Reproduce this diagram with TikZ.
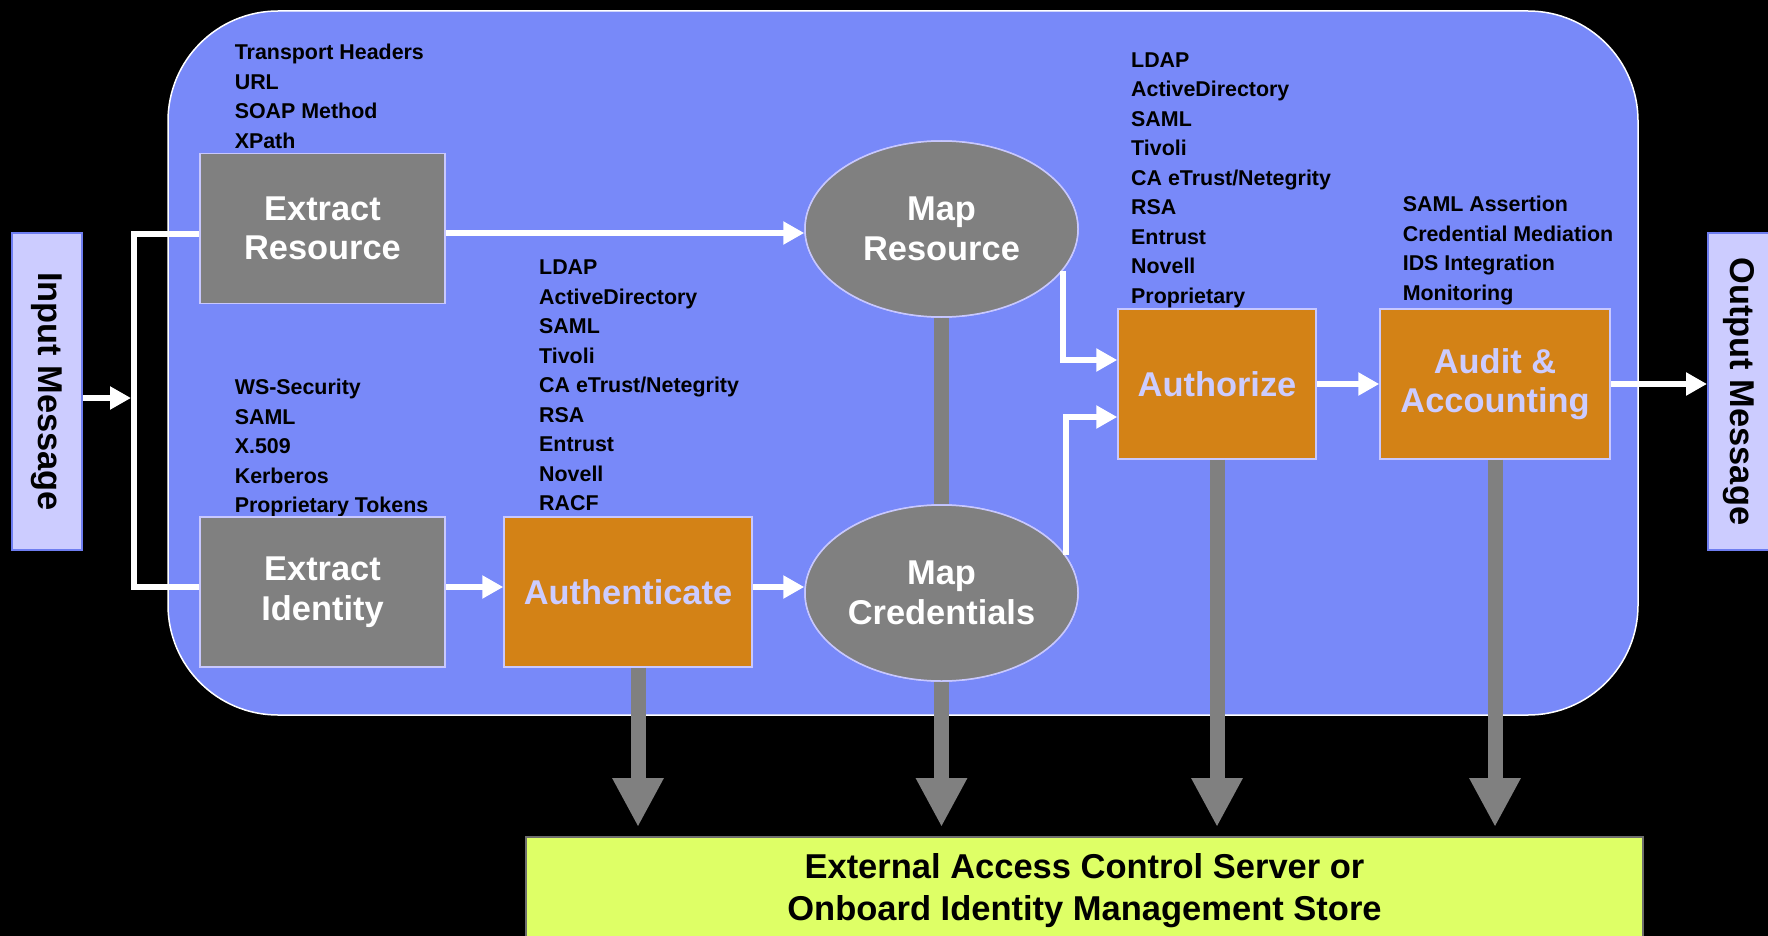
\documentclass[tikz,border=0pt]{standalone}
\usepackage{fontspec}
\usepackage{graphicx}
\setmainfont{Liberation Sans}
\usetikzlibrary{arrows.meta,shapes.geometric}

\definecolor{panelblue}{RGB}{120,137,249}
\definecolor{boxgray}{RGB}{128,128,128}
\definecolor{orangebox}{RGB}{211,130,22}
\definecolor{lav}{RGB}{204,204,255}
\definecolor{lavborder}{RGB}{200,200,255}
\definecolor{ioborder}{RGB}{110,125,240}
\definecolor{storefill}{RGB}{222,255,102}
\definecolor{storeborder}{RGB}{110,110,110}

\newcommand\lblfont{\fontsize{34.4}{39.5}\selectfont\bfseries}
\newcommand\lstfont{\fontsize{21.4}{29.5}\selectfont\bfseries}
\newcommand\storefont{\fontsize{34.5}{42}\selectfont\bfseries}

\begin{document}
\begin{tikzpicture}[x=1pt,y=-1pt,
  panelbox/.style={draw=white, line width=1.5pt, fill=panelblue, rounded corners=110pt, minimum width=1470pt, minimum height=704pt, inner sep=0pt},
  graybox/.style={draw=lavborder, line width=1.5pt, fill=boxgray, text=white, minimum width=245pt, minimum height=150pt, inner sep=0pt, align=center, font=\lblfont},
  orbox/.style={draw=lavborder, line width=1.5pt, fill=orangebox, text=lav, minimum height=150pt, inner sep=0pt, align=center, font=\lblfont},
  mapell/.style={ellipse, draw=lavborder, line width=1.5pt, fill=boxgray, text=white, minimum width=273pt, minimum height=176pt, inner sep=0pt, align=center, font=\lblfont},
  iobox/.style={draw=ioborder, line width=2pt, fill=lav, text=black, minimum height=317pt, inner sep=0pt, font=\lblfont},
  lst/.style={anchor=north west, inner sep=0pt, align=left, font=\lstfont, text=black},
  storebox/.style={draw=storeborder, line width=1.5pt, fill=storefill, text=black, minimum width=1117pt, minimum height=108pt, inner sep=0pt, align=center, font=\storefont},
  wline/.style={draw=white, line width=6pt, line join=miter},
  warrow/.style={wline, -{Triangle[length=21pt,width=22pt]}},
  gline/.style={draw=boxgray, line width=15pt},
  garrow/.style={gline, -{Triangle[length=49pt,width=48pt]}}
]
\useasboundingbox (0,0) rectangle (1768,936);
\fill[black] (0,0) rectangle (1768,936);

% main panel
\node[panelbox] (panel) at (903,363) {};

% store box
\node[storebox] (store) at (1084.5,891) {External Access Control Server or\\Onboard Identity Management Store};

% input / output
\node[iobox, minimum width=70pt] (input) at (47,391.5) {\rotatebox{-90}{Input Message}};
\node[iobox, minimum width=62pt] (output) at (1739,391.5) {\rotatebox{-90}{Output Message}};

% text lists
\node[lst] (lres) at (234.6,39.0) {\strut Transport Headers\\URL\\SOAP Method\\XPath};
\node[lst] (lid) at (234.6,374.0) {\strut WS-Security\\SAML\\X.509\\Kerberos\\Proprietary Tokens};
\node[lst] (lauth) at (539,254.0) {\strut LDAP\\ActiveDirectory\\SAML\\Tivoli\\CA eTrust/Netegrity\\RSA\\Entrust\\Novell\\RACF};
\node[lst] (lauthz) at (1131,46.5) {\strut LDAP\\ActiveDirectory\\SAML\\Tivoli\\CA eTrust/Netegrity\\RSA\\Entrust\\Novell\\Proprietary};
\node[lst] (laudit) at (1402.6,191.0) {\strut SAML Assertion\\Credential Mediation\\IDS Integration\\Monitoring};

% coordinates
\coordinate (jtop) at (134,234);
\coordinate (jbot) at (134,587);
\coordinate (jin) at (134,398);
\coordinate (yres) at (0,233);
\coordinate (yz1) at (0,360);
\coordinate (yz2) at (0,417);
\coordinate (ytip) at (0,827);

% gray connectors (behind nodes)
\node[mapell] (mapres) at (941.5,229) {Map\\Resource};
\node[mapell] (mapcred) at (941.5,593) {Map\\Credentials};
\draw[gline] (mapres.south) -- (mapcred.north);
\node[mapell] at (mapres) {Map\\Resource};
\node[mapell] at (mapcred) {Map\\Credentials};

% process boxes
\node[graybox] (exres) at (322.5,228.5) {Extract\\Resource};
\node[graybox] (exid) at (322.5,592) {Extract\\Identity};
\node[orbox, minimum width=248pt] (auth) at (628,592) {Authenticate};
\node[orbox, minimum width=198pt] (authz) at (1217,384) {Authorize};
\node[orbox, minimum width=230pt] (audit) at (1495,384) {Audit \&\\Accounting};

% white connectors
\draw[warrow] (input.east |- jin) -- ([xshift=-3pt]jin);
\draw[wline] (exres.west |- jtop) -- (jtop) -- (jbot) -- (exid.west |- jbot);
\draw[warrow] (exres.east |- yres) -- (mapres.west |- yres);
\draw[warrow] (exid.east |- jbot) -- (auth.west |- jbot);
\draw[warrow] (auth.east |- jbot) -- (mapcred.west |- jbot);
\draw[warrow] (mapres.-19) |- (authz.west |- yz1);
\draw[warrow] (mapcred.17.6) |- (authz.west |- yz2);
\draw[warrow] (authz.east) -- (audit.west);
\draw[warrow] (audit.east) -- (output.west |- audit.east);

% gray arrows to the store
\draw[garrow] ([xshift=10pt]auth.south) -- ([xshift=10pt]auth.south |- ytip);
\draw[garrow] (mapcred.south) -- (mapcred.south |- ytip);
\draw[garrow] (authz.south) -- (authz.south |- ytip);
\draw[garrow] (audit.south) -- (audit.south |- ytip);
\end{tikzpicture}
\end{document}
